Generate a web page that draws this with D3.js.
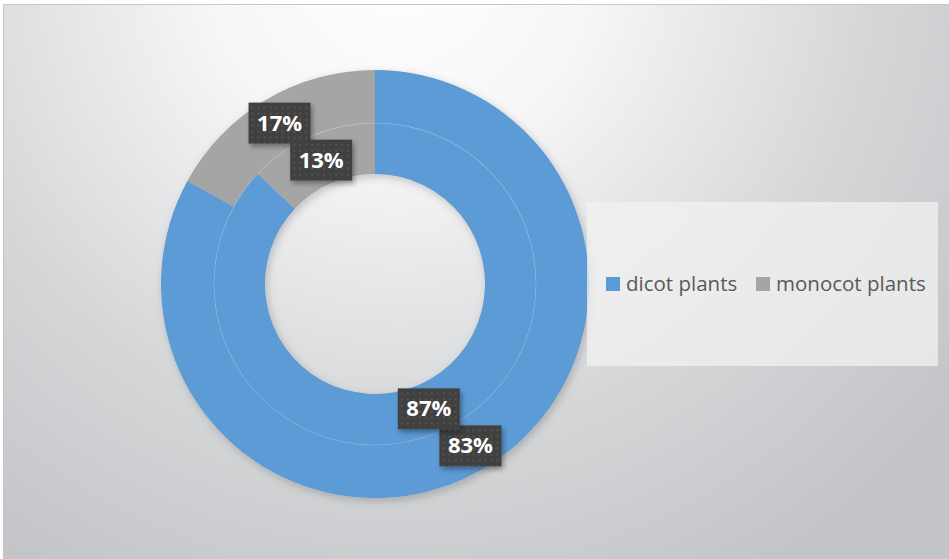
<!DOCTYPE html>
<html>
<head>
<meta charset="utf-8">
<script src="https://cdn.jsdelivr.net/npm/d3@7"></script>
<style>
  body { margin: 0; background: #ffffff; }
  svg { display: block; }
</style>
</head>
<body>
<svg id="chart"></svg>
<script>
// Data
const categories = ["dicot plants", "monocot plants"];
const outerValues = [83, 17];   // outer ring
const innerValues = [87, 13];   // inner ring
const colors = ["#5b9bd5", "#a5a5a5"];

const width = 949;
const height = 559;

const svg = d3.select("#chart")
    .attr("width", width)
    .attr("height", height);

const defs = svg.append("defs");

// background gradient
const bg = defs.append("radialGradient")
    .attr("id", "bgGrad")
    .attr("gradientUnits", "userSpaceOnUse")
    .attr("cx", 400).attr("cy", -40)
    .attr("r", 700);
bg.append("stop").attr("offset", "0%").attr("stop-color", "#ffffff");
bg.append("stop").attr("offset", "28%").attr("stop-color", "#f6f6f7");
bg.append("stop").attr("offset", "68%").attr("stop-color", "#d5d6d8");
bg.append("stop").attr("offset", "100%").attr("stop-color", "#c4c5c8");

// dotted pattern for label boxes
const pat = defs.append("pattern")
    .attr("id", "dots")
    .attr("width", 6).attr("height", 6)
    .attr("patternUnits", "userSpaceOnUse");
pat.append("rect").attr("width", 6).attr("height", 6).attr("fill", "#414141");
pat.append("rect").attr("x", 2).attr("y", 2).attr("width", 2).attr("height", 2).attr("fill", "#525252");

// shadow filter
const f = defs.append("filter").attr("id", "shadow")
    .attr("x", "-20%").attr("y", "-20%").attr("width", "150%").attr("height", "160%");
f.append("feDropShadow")
    .attr("dx", 2).attr("dy", 3).attr("stdDeviation", 2.5)
    .attr("flood-color", "#000").attr("flood-opacity", 0.35);

const ringShadow = defs.append("filter").attr("id", "ringShadow")
    .attr("x", "-20%").attr("y", "-20%").attr("width", "140%").attr("height", "140%");
ringShadow.append("feDropShadow")
    .attr("dx", 2).attr("dy", 3).attr("stdDeviation", 4)
    .attr("flood-color", "#000").attr("flood-opacity", 0.2);

// chart area
svg.append("rect")
    .attr("x", 3.5).attr("y", 4.5)
    .attr("width", width - 3).attr("height", height)
    .attr("fill", "url(#bgGrad)")
    .attr("stroke", "#c6c6c6")
    .attr("stroke-width", 1);

const cx = 375, cy = 284;
const rHole = 110, rMid = 161, rOuter = 214;

const pie = d3.pie().sort(null).value(d => d);

const g = svg.append("g")
    .attr("transform", `translate(${cx},${cy})`);

const outerArc = d3.arc().innerRadius(rMid).outerRadius(rOuter);
const innerArc = d3.arc().innerRadius(rHole).outerRadius(rMid);

const rings = g.append("g").attr("filter", "url(#ringShadow)");

rings.selectAll(".outer")
    .data(pie(outerValues))
    .enter().append("path")
    .attr("class", "outer")
    .attr("d", outerArc)
    .attr("fill", (d, i) => colors[i]);

rings.selectAll(".inner")
    .data(pie(innerValues))
    .enter().append("path")
    .attr("class", "inner")
    .attr("d", innerArc)
    .attr("fill", (d, i) => colors[i]);

// faint line between the rings
g.append("circle")
    .attr("r", rMid)
    .attr("fill", "none")
    .attr("stroke", "#ffffff")
    .attr("stroke-opacity", 0.2)
    .attr("stroke-width", 0.8);

// data labels
function addLabels(data, arc) {
    const lab = g.selectAll(null)
        .data(data)
        .enter().append("g")
        .attr("transform", d => `translate(${arc.centroid(d)})`);
    lab.append("rect")
        .attr("x", -31).attr("y", -20)
        .attr("width", 62).attr("height", 41)
        .attr("fill", "url(#dots)")
        .attr("filter", "url(#shadow)");
    lab.append("text")
        .attr("text-anchor", "middle")
        .attr("y", 8)
        .attr("fill", "#ffffff")
        .style("font-family", "'Open Sans', 'Liberation Sans', sans-serif")
        .style("font-weight", "bold")
        .style("font-size", "22px")
        .text(d => d.data + "%");
}
addLabels(pie(outerValues), outerArc);
addLabels(pie(innerValues), innerArc);

// legend
const legend = svg.append("g");
legend.append("rect")
    .attr("x", 587).attr("y", 202)
    .attr("width", 351).attr("height", 164)
    .attr("fill", "#f2f2f2")
    .attr("fill-opacity", 0.75);

const legendX = [606, 756];
const item = legend.selectAll(".item")
    .data(categories)
    .enter().append("g")
    .attr("class", "item")
    .attr("transform", (d, i) => `translate(${legendX[i]},277)`);
item.append("rect")
    .attr("width", 14).attr("height", 14)
    .attr("fill", (d, i) => colors[i]);
item.append("text")
    .attr("x", 20).attr("y", 14)
    .attr("fill", "#595959")
    .style("font-family", "'Open Sans', 'Liberation Sans', sans-serif")
    .style("font-size", "20.5px")
    .text(d => d);
</script>
</body>
</html>
